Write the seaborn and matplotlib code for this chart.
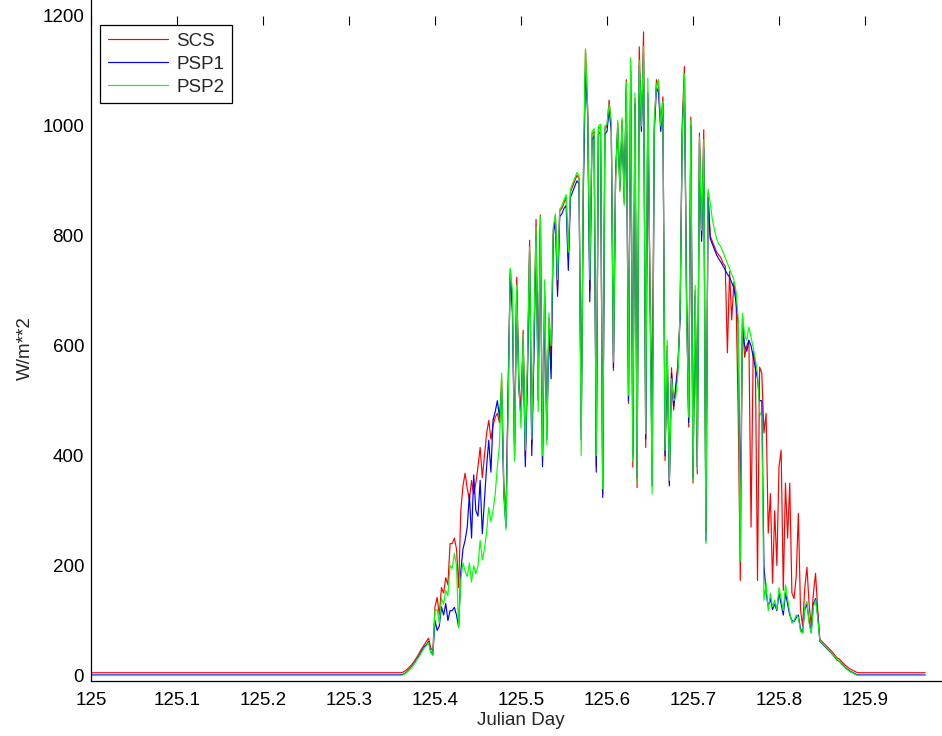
import numpy as np
import pandas as pd
import matplotlib
matplotlib.use("Agg")
import matplotlib.pyplot as plt
import seaborn as sns

# sampling of the record (Julian day)
night_start = 125.0
night_end = 125.97
day_start = 125.36
day_step = 0.0025

# night-time offsets (W/m**2)
scs_night = 5
psp1_night = 1
psp2_night = 0

# daytime values, 12 samples per 0.03 day
scs_day = [
    5, 6, 8, 11, 15, 19, 24, 30, 36, 43, 50, 56,
    62, 68, 50, 45, 125, 142, 110, 160, 150, 178, 165, 240,
    240, 250, 230, 160, 300, 345, 368, 340, 320, 355, 330, 350,
    380, 415, 360, 400, 440, 464, 430, 455, 470, 477, 460, 540,
    350, 290, 520, 738, 680, 420, 725, 540, 480, 628, 400, 560,
    792, 420, 600, 830, 520, 838, 390, 700, 450, 650, 560, 810,
    835, 700, 845, 850, 860, 870, 760, 880, 890, 900, 910, 905,
    450, 900, 1138, 1035, 700, 985, 990, 380, 995, 998, 330, 995,
    1000, 1047, 1000, 555, 907, 1005, 883, 1010, 860, 1084, 495, 1110,
    379, 1050, 342, 1144, 1000, 1171, 415, 1050, 700, 500, 1000, 1084,
    1071, 1000, 1053, 391, 600, 350, 560, 483, 530, 568, 659, 1005,
    1108, 700, 452, 1016, 350, 700, 367, 987, 800, 993, 260, 878,
    800, 790, 780, 770, 765, 760, 750, 745, 587, 735, 647, 715,
    690, 483, 173, 650, 579, 600, 610, 270, 590, 570, 173, 561,
    550, 441, 477, 259, 331, 168, 300, 200, 380, 410, 155, 350,
    250, 350, 150, 140, 180, 295, 120, 90, 160, 197, 130, 90,
    150, 186, 120, 66, 62, 58, 54, 50, 46, 42, 37, 32,
    30, 26, 22, 18, 15, 12, 10, 8, 6, 5, 5, 5,
]

psp1_day = [
    1, 2, 4, 7, 11, 15, 20, 26, 32, 39, 46, 52,
    56, 62, 44, 38, 100, 82, 90, 125, 110, 131, 100, 118,
    118, 124, 110, 88, 190, 230, 246, 270, 330, 250, 365, 300,
    290, 355, 258, 320, 380, 428, 370, 465, 480, 500, 470, 520,
    330, 270, 510, 730, 660, 400, 700, 520, 470, 610, 380, 540,
    770, 400, 580, 800, 500, 820, 380, 690, 430, 630, 540, 800,
    830, 690, 835, 840, 850, 855, 737, 870, 880, 890, 900, 895,
    430, 880, 1100, 1020, 680, 975, 982, 370, 985, 990, 324, 985,
    990, 1030, 990, 560, 915, 995, 890, 1000, 870, 1070, 500, 1100,
    400, 1040, 360, 1110, 990, 1130, 430, 1060, 690, 345, 990, 1070,
    1060, 990, 1040, 400, 590, 345, 550, 490, 520, 560, 650, 990,
    1080, 680, 460, 1000, 360, 690, 380, 970, 790, 960, 245, 870,
    795, 785, 775, 765, 758, 752, 745, 738, 730, 725, 715, 705,
    680, 640, 300, 640, 600, 590, 610, 600, 580, 560, 540, 500,
    500, 200, 150, 125, 140, 120, 130, 118, 150, 130, 110, 150,
    130, 110, 100, 98, 105, 110, 85, 78, 120, 130, 100, 78,
    130, 140, 110, 62, 58, 54, 50, 46, 42, 38, 33, 28,
    26, 22, 18, 14, 11, 8, 6, 4, 2, 1, 1, 1,
]

psp2_day = [
    0, 1, 3, 6, 10, 14, 19, 25, 31, 37, 44, 50,
    54, 60, 42, 36, 118, 120, 95, 140, 130, 155, 145, 200,
    195, 222, 200, 87, 175, 205, 190, 180, 205, 170, 200, 185,
    200, 246, 210, 230, 260, 306, 280, 300, 330, 380, 420, 550,
    340, 265, 480, 741, 700, 390, 710, 530, 450, 620, 410, 570,
    780, 430, 620, 815, 480, 835, 400, 720, 420, 660, 600, 815,
    840, 720, 848, 855, 865, 875, 770, 885, 895, 905, 915, 910,
    400, 920, 1140, 1030, 720, 990, 995, 400, 1000, 1003, 340, 1000,
    1003, 1040, 1005, 570, 900, 1010, 880, 1015, 855, 1080, 510, 1124,
    390, 1060, 350, 1120, 1000, 1144, 440, 1087, 710, 331, 1010, 1075,
    1084, 1000, 1045, 410, 610, 355, 540, 500, 506, 550, 665, 980,
    1095, 665, 470, 1010, 355, 710, 375, 980, 810, 975, 240, 885,
    860, 830, 810, 795, 785, 780, 770, 760, 750, 740, 730, 720,
    700, 650, 209, 659, 620, 610, 634, 615, 597, 575, 550, 480,
    470, 137, 168, 118, 150, 125, 137, 120, 160, 140, 118, 165,
    140, 115, 95, 100, 110, 106, 80, 77, 125, 135, 95, 77,
    125, 137, 105, 64, 59, 55, 51, 47, 43, 39, 34, 29,
    26, 21, 17, 13, 10, 7, 5, 3, 1, 0, 0, 0,
]

sensor_names = ['SCS', 'PSP1', 'PSP2']
sensor_colors = ['#ff0000', '#0000ff', '#00ff00']

xtick_values = [125.0, 125.1, 125.2, 125.3, 125.4, 125.5, 125.6, 125.7, 125.8, 125.9]
xtick_labels = ['125', '125.1', '125.2', '125.3', '125.4', '125.5', '125.6', '125.7', '125.8', '125.9']
ytick_values = [0, 200, 400, 600, 800, 1000, 1200]


def build_series(name, night, day):
    day_times = day_start + day_step * np.arange(len(day))
    times = np.concatenate([[night_start], day_times, [night_end]])
    values = [night] + list(day) + [night]
    return pd.DataFrame({'Julian Day': times, 'W/m**2': values, 'sensor': name})


def main():
    df = pd.concat([
        build_series('SCS', scs_night, scs_day),
        build_series('PSP1', psp1_night, psp1_day),
        build_series('PSP2', psp2_night, psp2_day),
    ], ignore_index=True)

    sns.set_style('white')
    plt.rcParams['font.family'] = ['Liberation Sans', 'DejaVu Sans']

    fig = plt.figure(figsize=(9.42, 7.36), dpi=100)
    # axes runs off the top/right edge like the cropped original
    ax = fig.add_axes([91 / 942, 55 / 736, 860 / 942, 665 / 736])

    sns.lineplot(data=df, x='Julian Day', y='W/m**2', hue='sensor',
                 hue_order=sensor_names,
                 palette=dict(zip(sensor_names, sensor_colors)),
                 estimator=None, sort=False, legend=False,
                 linewidth=0.85, ax=ax)

    ax.set_xlim(125.0, 126.0)
    ax.set_ylim(-10, 1200)
    ax.set_xticks(xtick_values)
    ax.set_xticklabels(xtick_labels)
    ax.set_yticks(ytick_values)

    ax.tick_params(direction='in', length=6.5, width=0.8, top=True,
                   labelsize=13.5, colors='black')
    ax.tick_params(axis='x', pad=8)
    ax.tick_params(axis='y', pad=5)

    for side in ['left', 'bottom']:
        ax.spines[side].set_color('black')
        ax.spines[side].set_linewidth(0.9)
    ax.spines['top'].set_visible(False)
    ax.spines['right'].set_visible(False)
    ax.spines['left'].set_bounds(-10, 1240)

    ax.set_xlabel('Julian Day', fontsize=13.5, labelpad=2)
    ax.set_ylabel('W/m**2', fontsize=13.5, labelpad=6)

    leg = ax.legend(ax.lines[:3], sensor_names, loc='upper left',
                    fontsize=13.5, frameon=True, fancybox=False,
                    edgecolor='black', framealpha=1, borderaxespad=0.5,
                    handlelength=3.2, handletextpad=0.45, labelspacing=0.3,
                    borderpad=0.4)
    leg.get_frame().set_linewidth(0.9)

    fig.savefig('out.png', dpi=100)
    plt.close(fig)


if __name__ == "__main__":
    main()
